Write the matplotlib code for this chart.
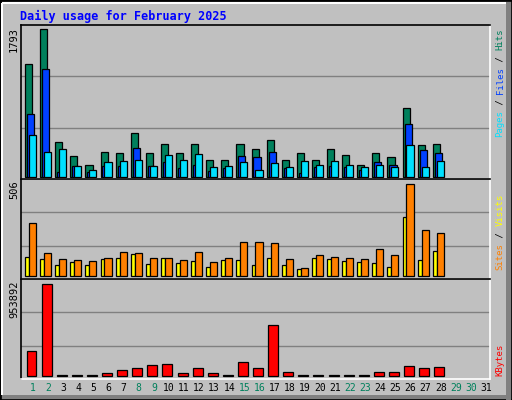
import matplotlib
matplotlib.use("Agg")
import matplotlib.pyplot as plt
from matplotlib.patches import Rectangle
import numpy as np

# Webalizer daily usage, February 2025
days = np.arange(1, 29)
hits = [1366, 1793, 415, 244, 146, 293, 281, 524, 281, 390, 281, 390, 207, 195,
        390, 329, 439, 195, 281, 207, 329, 256, 146, 281, 232, 829, 378, 390]
files = [756, 1305, 61, 134, 61, 122, 122, 342, 122, 171, 98, 146, 73, 98,
         244, 232, 293, 98, 49, 110, 122, 110, 85, 171, 146, 634, 317, 281]
pages = [500, 293, 329, 122, 85, 171, 183, 207, 122, 256, 195, 268, 110, 122,
         171, 85, 159, 110, 183, 146, 183, 146, 110, 146, 110, 378, 110, 183]
sites = [105, 94, 60, 77, 60, 94, 99, 121, 66, 99, 72, 83, 50, 88,
         88, 60, 99, 60, 39, 99, 94, 83, 77, 72, 50, 325, 88, 138]
visits = [291, 126, 94, 88, 83, 99, 132, 126, 99, 99, 88, 132, 77, 99,
          187, 187, 182, 94, 44, 116, 105, 99, 94, 149, 116, 506, 253, 237]
kbytes = [254000, 953892, 5000, 5000, 5000, 28000, 56000, 77000, 108000, 118000,
          24000, 77000, 24000, 5000, 139000, 77000, 526000, 35000, 5000, 5000,
          5000, 5000, 5000, 35000, 35000, 97000, 77000, 87000]
weekend_days = [1, 2, 8, 9, 15, 16, 22, 23, 29, 30]

BG = "#C0C0C0"
MONO = "DejaVu Sans Mono"

fig = plt.figure(figsize=(5.12, 4.0), dpi=100)
fig.patch.set_facecolor(BG)

# 3D frame around the image
fig.add_artist(Rectangle((0, 0), 1, 1, transform=fig.transFigure, fill=False,
                         edgecolor="black", lw=2))
fig.add_artist(Rectangle((1 - 6 / 512, 0), 5 / 512, 1 - 2 / 400, transform=fig.transFigure,
                         facecolor="#808080", edgecolor="none"))
fig.add_artist(Rectangle((2 / 512, 1 / 400), 1 - 4 / 512, 4 / 400, transform=fig.transFigure,
                         facecolor="#808080", edgecolor="none"))
fig.add_artist(Rectangle((2 / 512, 1 - 4 / 400), 1 - 8 / 512, 2 / 400, transform=fig.transFigure,
                         facecolor="white", edgecolor="none"))
fig.add_artist(Rectangle((1 / 512, 5 / 400), 2 / 512, 1 - 8 / 400, transform=fig.transFigure,
                         facecolor="white", edgecolor="none"))

fig.text(20 / 512, 1 - 16 / 400, "Daily usage for February 2025", color="#0000FF",
         fontsize=8.5, fontweight="bold", family=MONO, va="center", ha="left")

left, width = 21 / 512, 469 / 512
ax1 = fig.add_axes([left, 1 - 179 / 400, width, 154 / 400])
ax2 = fig.add_axes([left, 1 - 279 / 400, width, 100 / 400])
ax3 = fig.add_axes([left, 1 - 379 / 400, width, 100 / 400])

xlim = (0.205, 31.26)
for ax, lim in [(ax1, (-30, 1842)), (ax2, (-15, 535)), (ax3, (-34000, 1009000))]:
    ax.set_facecolor(BG)
    ax.set_xlim(*xlim)
    ax.set_ylim(*lim)
    span = lim[1] - lim[0]
    for f in (1 / 3, 2 / 3):
        ax.axhline(lim[0] + span * f, color="#808080", lw=1, zorder=0)
    ax.set_xticks([])
    ax.set_yticks([])
    ax.spines["top"].set_color("black")
    ax.spines["left"].set_color("black")
    ax.spines["bottom"].set_color("white")
    ax.spines["right"].set_color("white")
    for s in ax.spines.values():
        s.set_linewidth(1.2)

kw = dict(align="edge", edgecolor="black", linewidth=0.9)
ax1.bar(days - 0.53, hits, 0.47, color="#00805C", **kw)
ax1.bar(days - 0.40, files, 0.47, color="#0040FF", **kw)
ax1.bar(days - 0.27, pages, 0.47, color="#00E0FF", **kw)

ax2.bar(days - 0.53, sites, 0.26, color="#FFFF00", **kw)
ax2.bar(days - 0.27, visits, 0.47, color="#FF8000", **kw)

ax3.bar(days - 0.43, kbytes, 0.66, color="#FF0000", **kw)

# max values on the left
for ax, lab in [(ax1, "1793"), (ax2, "506"), (ax3, "953892")]:
    ax.text(-7 / 469, 0.985, lab, transform=ax.transAxes, rotation=90, ha="center",
            va="top", fontsize=7.5, family=MONO, color="black")

# legends on the right, rotated, reading bottom to top
def side_label(ax, parts, y0):
    y = y0
    for txt, col in parts:
        ax.text(1 + 10 / 469, y, txt, transform=ax.transAxes, rotation=90,
                ha="center", va="bottom", fontsize=6.5, family=MONO, color=col)
        y += (len(txt) * 5.45) / (ax.get_position().height * 400)

side_label(ax1, [("Pages", "#00E0FF"), (" / ", "black"), ("Files", "#0040FF"),
                 (" / ", "black"), ("Hits", "#00805C")], 0.27)
side_label(ax2, [("Sites", "#FF8000"), (" / ", "black"), ("Visits", "#FFFF00")], 0.09)
side_label(ax3, [("KBytes", "#FF0000")], 0.03)

# day labels
for d in range(1, 32):
    col = "#00805C" if d in weekend_days else "black"
    ax3.text(d, -0.09, str(d), transform=ax3.get_xaxis_transform(), ha="center",
             va="center", fontsize=7, family=MONO, color=col)

fig.savefig("out.png", dpi=100, facecolor=BG)
